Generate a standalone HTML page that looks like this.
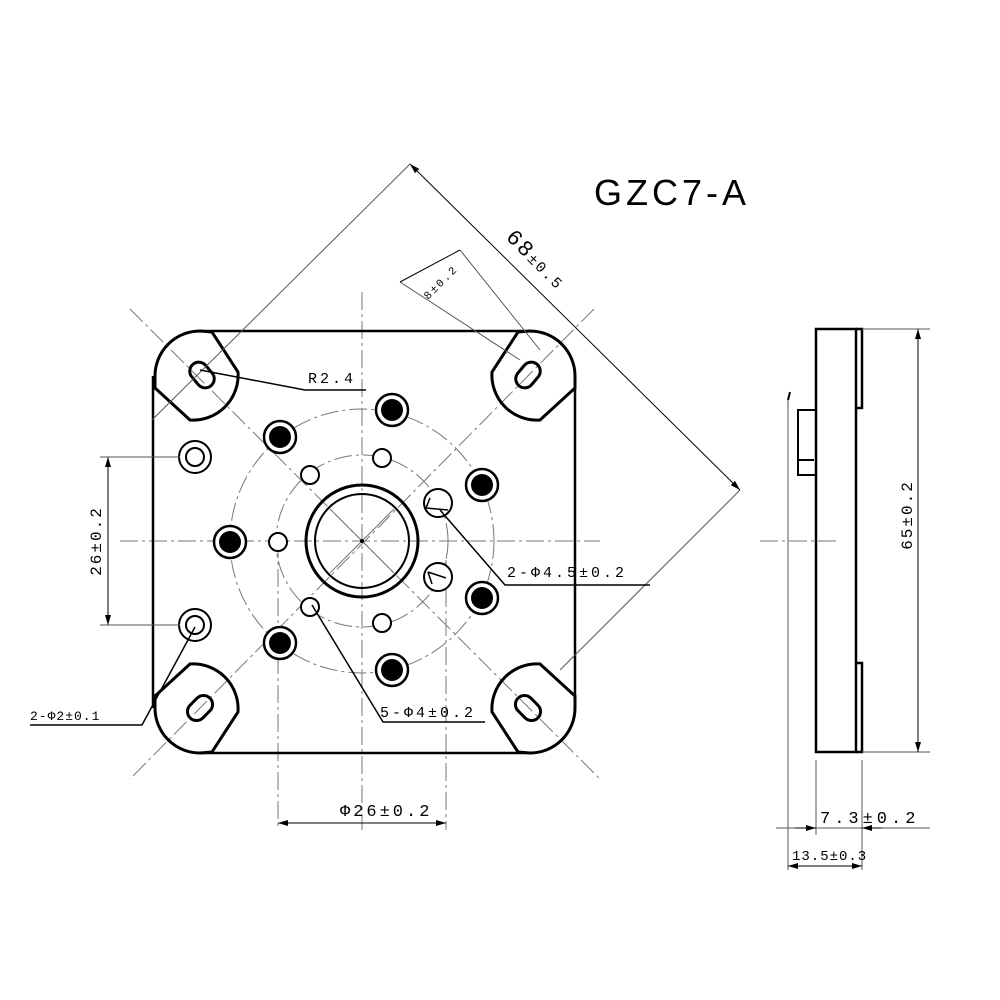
<!DOCTYPE html>
<html><head><style>body{margin:0;background:#fff}svg{display:block}</style></head><body>
<svg width="1000" height="1000" viewBox="0 0 1000 1000" xmlns="http://www.w3.org/2000/svg" font-family="Liberation Mono, monospace">
<defs>
<marker id="ar" markerWidth="10" markerHeight="6" refX="10" refY="3" orient="auto-start-reverse" markerUnits="userSpaceOnUse"><path d="M0,0 L10,3 L0,6z" fill="#000"/></marker>
</defs>
<rect width="1000" height="1000" fill="#fff"/>
<g stroke="#777" stroke-width="1" stroke-dasharray="18,4,3,4" fill="none">
<line x1="362" y1="292" x2="362" y2="830"/>
<line x1="120" y1="541" x2="600" y2="541"/>
<line x1="130" y1="309" x2="600" y2="779"/>
<line x1="594" y1="309" x2="130" y2="779"/>
<line x1="278" y1="540" x2="278" y2="830"/>
<line x1="446" y1="560" x2="446" y2="830"/>
<circle cx="362" cy="541" r="86"/>
<circle cx="362" cy="541" r="132"/>
<line x1="760" y1="541" x2="840" y2="541"/>
</g>
<g stroke="#000" stroke-width="3" fill="none">
<path d="M200,331 A45,45 0 0 0 155,376 L155,388 L190,420 A45,45 0 0 0 238,372 L212,332 Z"/>
<path d="M530,331 A45,45 0 0 1 575,376 L575,388 L540,420 A45,45 0 0 1 492,372 L518,332 Z"/>
<path d="M200,753 A45,45 0 0 1 155,708 L155,696 L190,664 A45,45 0 0 1 238,712 L212,752 Z"/>
<path d="M530,753 A45,45 0 0 0 575,708 L575,696 L540,664 A45,45 0 0 0 492,712 L518,752 Z"/>
<path d="M200,331 L530,331 M575,376 L575,708 M530,753 L200,753 M153,708 L153,376" stroke-width="2.5"/>
<rect x="188" y="366" width="28" height="18" rx="9" transform="rotate(50 202 375)"/>
<rect x="514" y="366" width="28" height="18" rx="9" transform="rotate(-50 528 375)"/>
<rect x="186" y="699" width="28" height="18" rx="9" transform="rotate(-45 200 708)"/>
<rect x="514" y="699" width="28" height="18" rx="9" transform="rotate(45 528 708)"/>
<circle cx="362" cy="541" r="56"/>
<circle cx="362" cy="541" r="47" stroke-width="2"/>
</g>
<g stroke="#777" stroke-width="1" fill="none">
<line x1="330" y1="509" x2="394" y2="573"/><line x1="394" y1="509" x2="330" y2="573"/>
</g>
<circle cx="362" cy="541" r="2" fill="#000"/>
<g stroke="#000" stroke-width="2.5">
<g fill="#fff">
<circle cx="392" cy="410" r="16"/><circle cx="280" cy="437" r="16"/><circle cx="482" cy="485" r="16"/>
<circle cx="230" cy="542" r="16"/><circle cx="482" cy="598" r="16"/><circle cx="280" cy="643" r="16"/><circle cx="392" cy="670" r="16"/>
</g>
<g fill="#000" stroke="none">
<circle cx="392" cy="410" r="11"/><circle cx="280" cy="437" r="11"/><circle cx="482" cy="485" r="11"/>
<circle cx="230" cy="542" r="11"/><circle cx="482" cy="598" r="11"/><circle cx="280" cy="643" r="11"/><circle cx="392" cy="670" r="11"/>
</g>
<g fill="#fff" stroke-width="2">
<circle cx="382" cy="458" r="9"/><circle cx="310" cy="475" r="9"/><circle cx="278" cy="542" r="9"/>
<circle cx="310" cy="607" r="9"/><circle cx="382" cy="623" r="9"/>
<circle cx="438" cy="503" r="14"/><circle cx="438" cy="577" r="14"/>
<circle cx="195" cy="457" r="16"/><circle cx="195" cy="457" r="9"/>
<circle cx="195" cy="625" r="16"/><circle cx="195" cy="625" r="9"/>
</g>
<path d="M426,508 L448,510 M430,498 L426,508" stroke-width="1.5" fill="none"/>
<path d="M428,572 L446,578 M432,584 L428,572" stroke-width="1.5" fill="none"/>
</g>
<g stroke="#000" stroke-width="1" fill="none">
<line x1="410" y1="164" x2="152" y2="420" stroke="#555"/>
<line x1="740" y1="490" x2="560" y2="670" stroke="#555"/>
<line x1="410" y1="164" x2="740" y2="490" marker-start="url(#ar)" marker-end="url(#ar)"/>
<line x1="400" y1="282" x2="520" y2="360" stroke="#555"/>
<line x1="460" y1="250" x2="540" y2="350" stroke="#555"/>
<line x1="400" y1="282" x2="460" y2="250"/>
<line x1="108" y1="457" x2="108" y2="625" marker-start="url(#ar)" marker-end="url(#ar)"/>
<line x1="100" y1="457" x2="180" y2="457" stroke="#555"/><line x1="100" y1="625" x2="180" y2="625" stroke="#555"/>
<line x1="278" y1="823" x2="446" y2="823" marker-start="url(#ar)" marker-end="url(#ar)"/>
<path d="M200,370 L305,390 L366,390" stroke-width="1.5"/>
<path d="M440,510 L505,585 L650,585" stroke-width="1.5"/>
<path d="M312,605 L383,722 L485,722" stroke-width="1.5"/>
<path d="M195,627 L142,725 L30,725" stroke-width="1.5"/>
</g>
<g font-size="15" fill="#000">
<text x="308" y="383" letter-spacing="3">R2.4</text>
<text x="507" y="577" letter-spacing="3">2-Φ4.5±0.2</text>
<text x="380" y="717" letter-spacing="3">5-Φ4±0.2</text>
<text x="30" y="720" font-size="13" letter-spacing="1">2-Φ2±0.1</text>
<text x="340" y="816" font-size="17" letter-spacing="3">Φ26±0.2</text>
<text transform="translate(101,541) rotate(-90)" text-anchor="middle" font-size="16" letter-spacing="2">26±0.2</text>
<text transform="translate(505,238) rotate(45)" font-size="22" letter-spacing="2">68<tspan font-size="15">±0.5</tspan></text>
<text transform="translate(428,300) rotate(-45)" font-size="11" letter-spacing="2">8±0.2</text>
</g>
<text x="594" y="205" font-family="Liberation Sans, sans-serif" font-size="36" letter-spacing="4">GZC7-A</text>
<g stroke="#000" stroke-width="2.5" fill="none">
<rect x="816" y="329" width="40" height="423"/>
<path d="M856,329 L862,329 L862,408 L856,408 M856,663 L862,663 L862,752 L856,752"/>
<path d="M816,410 L798,410 L798,475 L816,475 M798,460 L814,460" stroke-width="2"/>
<path d="M790,392 L788,400" stroke-width="2"/>
</g>
<g stroke="#555" stroke-width="1" fill="none">
<line x1="862" y1="329" x2="930" y2="329"/><line x1="862" y1="752" x2="930" y2="752"/>
<line x1="788" y1="400" x2="788" y2="870"/><line x1="816" y1="760" x2="816" y2="835"/>
<line x1="862" y1="760" x2="862" y2="870"/>
<line x1="776" y1="828" x2="930" y2="828"/><line x1="790" y1="866" x2="862" y2="866"/>
</g>
<g stroke="#000" stroke-width="1" fill="none">
<line x1="918" y1="329" x2="918" y2="752" marker-start="url(#ar)" marker-end="url(#ar)"/>
<line x1="795" y1="828" x2="816" y2="828" marker-end="url(#ar)"/>
<line x1="882" y1="828" x2="862" y2="828" marker-end="url(#ar)"/>
<line x1="788" y1="866" x2="862" y2="866" marker-start="url(#ar)" marker-end="url(#ar)"/>
</g>
<g font-size="15" fill="#000">
<text transform="translate(912,515) rotate(-90)" text-anchor="middle" font-size="16" letter-spacing="2">65±0.2</text>
<text x="820" y="823" font-size="17" letter-spacing="4">7.3±0.2</text>
<text x="792" y="860" font-size="14" letter-spacing="1">13.5±0.3</text>
</g>
</svg>
</body></html>
